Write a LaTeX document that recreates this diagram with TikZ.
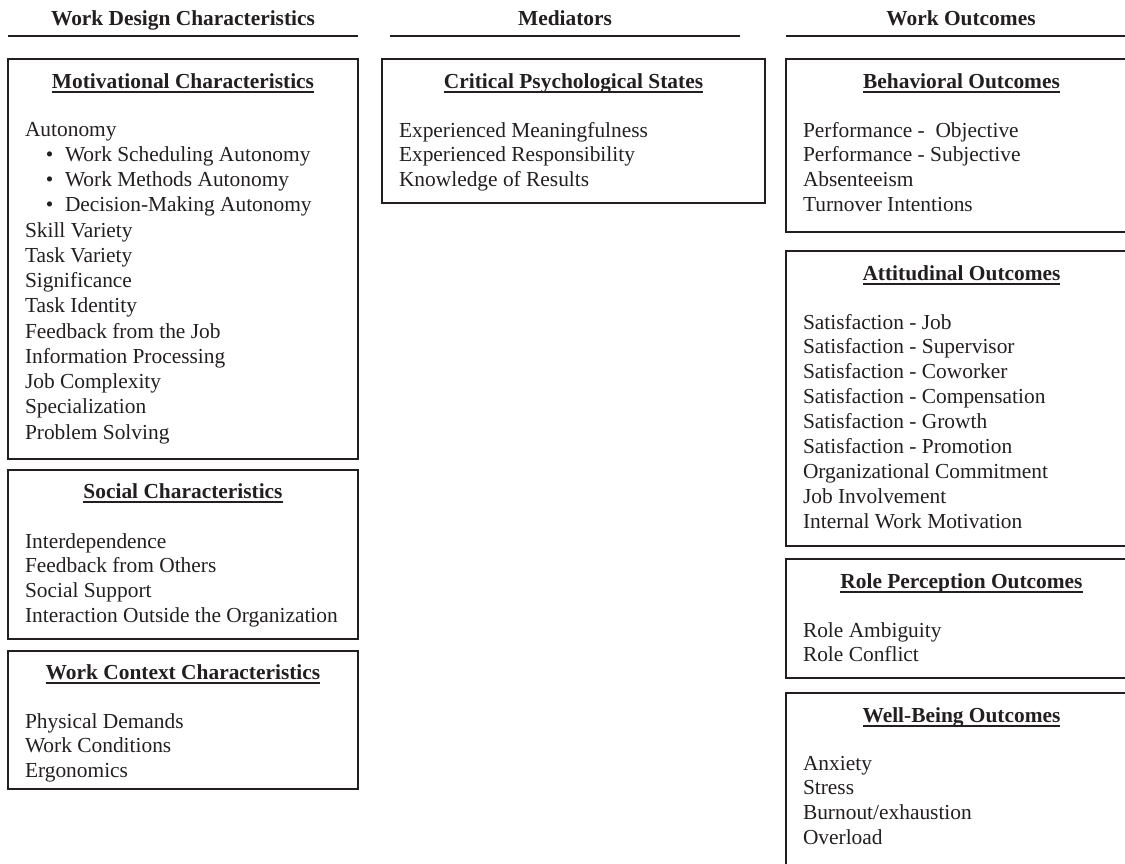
\documentclass[tikz,border=0pt]{standalone}
\usepackage{fontspec}
\setmainfont{Liberation Serif}
\definecolor{ink}{RGB}{35,31,32}
\newcommand\ulin[1]{\setbox0\hbox{#1}\rlap{\vrule width\wd0 height -3.2pt depth 4.7pt}\box0}
\tikzset{
  every node/.style={inner sep=0pt, outer sep=0pt, text=ink},
  txt/.style={anchor=base west, font=\fontsize{21.4}{25}\selectfont},
  ttl/.style={anchor=base, font=\fontsize{21.4}{25}\selectfont\bfseries},
  hdr/.style={anchor=base, font=\fontsize{21.4}{25}\selectfont\bfseries},
  box/.style={draw=ink, line width=1.8pt, anchor=north west},
  rule/.style={draw=ink, line width=1.8pt},
  bul/.style={anchor=base, font=\fontsize{21.4}{25}\selectfont}
}
\begin{document}
\begin{tikzpicture}[x=1pt,y=-1pt]
\useasboundingbox (0,0) rectangle (1125,863);
\clip (0,0) rectangle (1125,863);

% column headers
\node[hdr] (h1) at (183,25) {Work Design Characteristics};
\node[hdr] (h2) at (565,25) {Mediators};
\node[hdr] (h3) at (961,25) {Work Outcomes};
\coordinate (l1a) at (8,36);   \coordinate (l1b) at (358,36);
\coordinate (l2a) at (390,36); \coordinate (l2b) at (740,36);
\coordinate (l3a) at (786,36); \coordinate (l3b) at (1137,36);
\draw[rule] (l1a) -- (l1b);
\draw[rule] (l2a) -- (l2b);
\draw[rule] (l3a) -- (l3b);

% ---- left column ----
\node[box, minimum width=350pt, minimum height=400pt] (mot) at (8,59) {};
\node[ttl] (motT) at (183,88) {\ulin{Motivational Characteristics}};
\node[txt] (mot1) at (25,136) {Autonomy};
\foreach \t [count=\i] in {Work Scheduling Autonomy, Work Methods Autonomy, Decision-Making Autonomy}{
  \node[bul] (motb\i) at (49.5,{136+25.25*\i}) {•};
  \node[txt] (mots\i) at (65,{136+25.25*\i}) {\t};
}
\foreach \t [count=\i] in {Skill Variety, Task Variety, Significance, Task Identity, Feedback from the Job, Information Processing, Job Complexity, Specialization, Problem Solving}{
  \node[txt] (motx\i) at (25,{136+25.25*(\i+3)}) {\t};
}

\node[box, minimum width=350pt, minimum height=169pt] (soc) at (8,470) {};
\node[ttl] (socT) at (183,498) {\ulin{Social Characteristics}};
\foreach \t [count=\i] in {Interdependence, Feedback from Others, Social Support, Interaction Outside the Organization}{
  \node[txt] (soc\i) at (25,{548+24.9*(\i-1)}) {\t};
}

\node[box, minimum width=350pt, minimum height=138pt] (ctx) at (8,651) {};
\node[ttl] (ctxT) at (183,679) {\ulin{Work Context Characteristics}};
\foreach \t [count=\i] in {Physical Demands, Work Conditions, Ergonomics}{
  \node[txt] (ctx\i) at (25,{728+24.9*(\i-1)}) {\t};
}

% ---- middle column ----
\node[box, minimum width=383pt, minimum height=144pt] (crit) at (382,59) {};
\node[ttl] (critT) at (573.5,88) {\ulin{Critical Psychological States}};
\foreach \t [count=\i] in {Experienced Meaningfulness, Experienced Responsibility, Knowledge of Results}{
  \node[txt] (crit\i) at (399,{137+24.7*(\i-1)}) {\t};
}

% ---- right column ----
\node[box, minimum width=351pt, minimum height=173pt] (beh) at (786,59) {};
\node[ttl] (behT) at (961.5,88) {\ulin{Behavioral Outcomes}};
\foreach \t [count=\i] in {Performance - \ Objective, Performance - Subjective, Absenteeism, Turnover Intentions}{
  \node[txt] (beh\i) at (803,{137+24.9*(\i-1)}) {\t};
}

\node[box, minimum width=351pt, minimum height=295pt] (att) at (786,251) {};
\node[ttl] (attT) at (961.5,280) {\ulin{Attitudinal Outcomes}};
\foreach \t [count=\i] in {Satisfaction - Job, Satisfaction - Supervisor, Satisfaction - Coworker, Satisfaction - Compensation, Satisfaction - Growth, Satisfaction - Promotion, Organizational Commitment, Job Involvement, Internal Work Motivation}{
  \node[txt] (att\i) at (803,{329+24.9*(\i-1)}) {\t};
}

\node[box, minimum width=351pt, minimum height=119pt] (role) at (786,559) {};
\node[ttl] (roleT) at (961.5,588) {\ulin{Role Perception Outcomes}};
\foreach \t [count=\i] in {Role Ambiguity, Role Conflict}{
  \node[txt] (role\i) at (803,{637+24.9*(\i-1)}) {\t};
}

\node[box, minimum width=351pt, minimum height=200pt] (well) at (786,693) {};
\node[ttl] (wellT) at (961.5,722) {\ulin{Well-Being Outcomes}};
\foreach \t [count=\i] in {Anxiety, Stress, Burnout/exhaustion, Overload}{
  \node[txt] (well\i) at (803,{770+24.9*(\i-1)}) {\t};
}
\end{tikzpicture}
\end{document}
